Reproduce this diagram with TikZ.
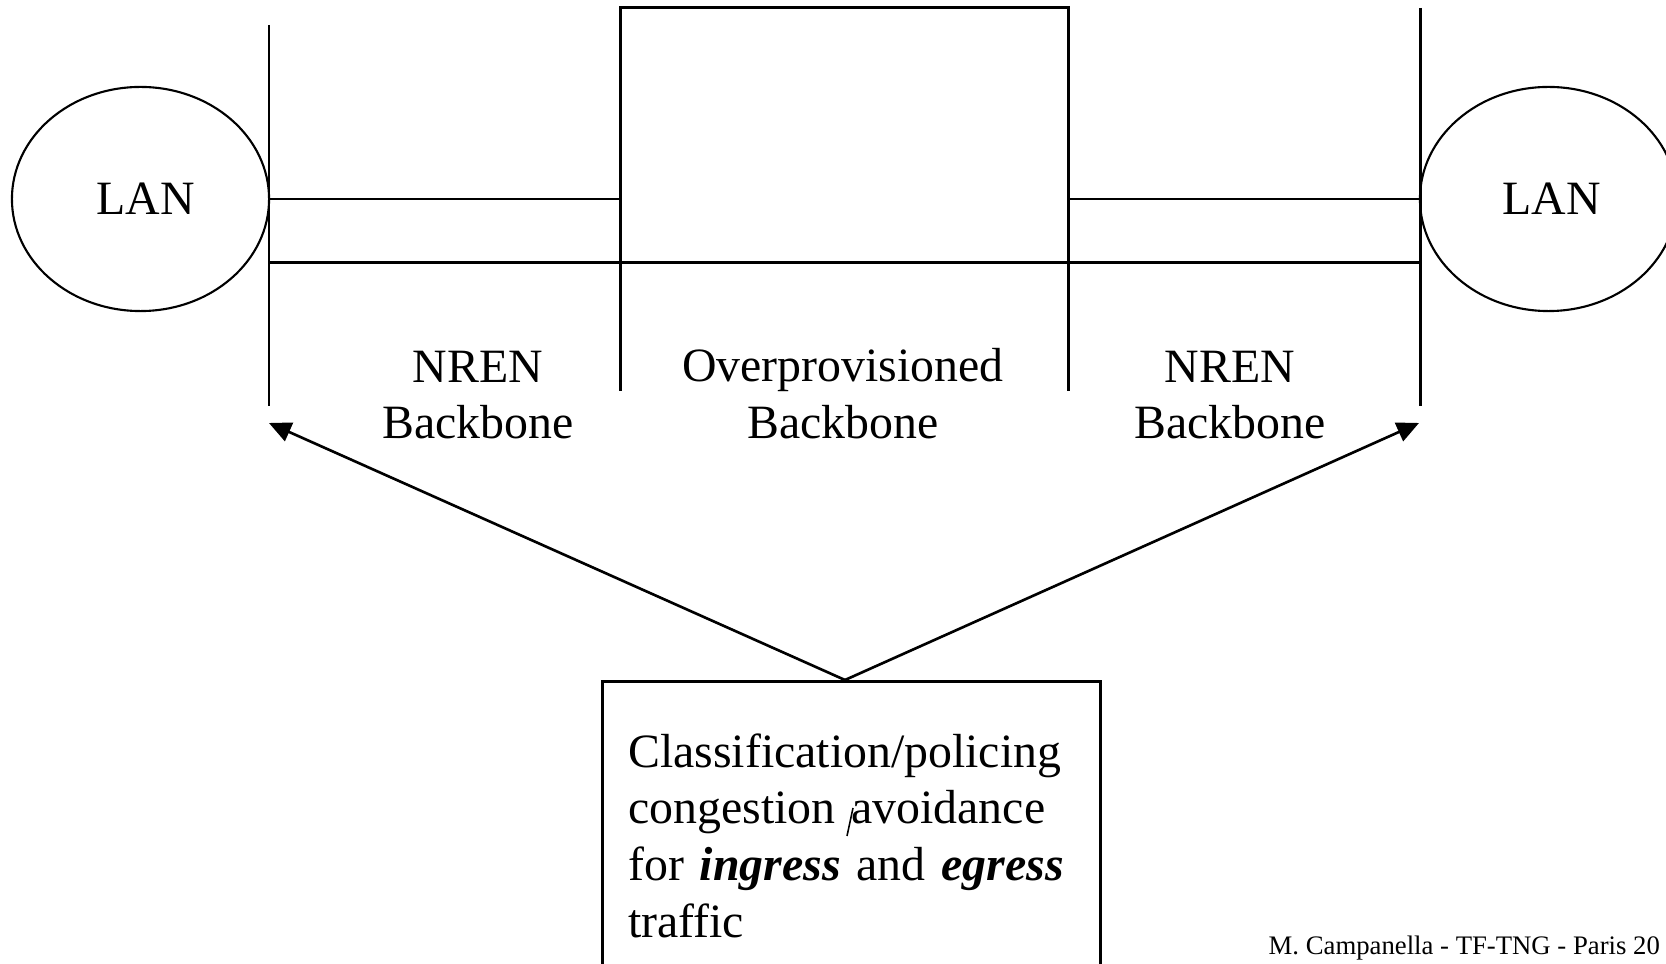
\documentclass[tikz,border=0pt]{standalone}
\usepackage{fontspec}
\setmainfont{Liberation Serif}
\usetikzlibrary{positioning, arrows.meta, shapes.geometric}
\definecolor{inkColor}{RGB}{0, 0, 0}
\tikzset{
    lan_cloud/.style={
        ellipse,
        draw=inkColor,
        line width=0.6pt,
        minimum width=2.57cm,
        minimum height=2.24cm,
        inner sep=0pt,
        font=\fontsize{13.6}{16.2}\selectfont
    },
    link_line/.style={
        draw=inkColor,
        line width=0.85pt
    },
    seg_label/.style={
        align=center,
        anchor=north,
        inner sep=0pt,
        font=\fontsize{13.6}{16.1}\selectfont
    },
    info_box/.style={
        draw=inkColor,
        line width=0.85pt,
        anchor=north west,
        align=left,
        text width=4.46cm,
        inner xsep=0.26cm,
        inner ysep=0.52cm,
        font=\fontsize{13.6}{16.1}\selectfont
    },
    policy_arrow/.style={
        -{Triangle[length=0.22cm, width=0.2cm]},
        draw=inkColor,
        line width=0.75pt
    }
}

\begin{document}
\begin{tikzpicture}[x=0.01cm, y=-0.01cm]
    \useasboundingbox (0,0) rectangle (1666,964);

    % campus networks
    \node[lan_cloud] (lanL) at (140.5,199) {\hspace*{0.1cm}LAN};
    \node[lan_cloud] (lanR) at (1548.5,199) {\hspace*{0.06cm}LAN};

    % edges of the domains
    \coordinate (edgeLtop) at (269,25);
    \coordinate (edgeLbot) at (269,406);
    \coordinate (edgeRtop) at (1420,8);
    \coordinate (edgeRbot) at (1420,406);
    \coordinate (coreNW) at (620,7.5);
    \coordinate (coreNE) at (1068,7.5);
    \coordinate (coreSW) at (620,391);
    \coordinate (coreSE) at (1068,391);
    \coordinate (busL) at (269,262.5);
    \coordinate (busR) at (1420,262.5);

    \draw[link_line] (edgeLtop) -- (edgeLbot);
    \draw[link_line] (edgeRtop) -- (edgeRbot);
    \draw[link_line] (coreSW) -- (coreNW) -- (coreNE) -- (coreSE);
    \draw[link_line] (edgeLtop |- lanL) -- (coreNW |- lanL);
    \draw[link_line] (coreNE |- lanR) -- (edgeRtop |- lanR);
    \draw[link_line] (busL) -- (busR);

    \node[seg_label] (nrenL) at (478,350) {NREN\\Backbone};
    \node[seg_label] (core) at (843,348) {Overprovisioned\\Backbone};
    \node[seg_label] (nrenR) at (1230,350) {NREN\\Backbone};

    % edge functions
    \node[info_box] (policy) at (600.7,680) {Classification/policing\\congestion avoidance\\for \textbf{\textit{ingress}} and \textbf{\textit{egress}}\\traffic};
    \coordinate (apex) at (845,680);
    \coordinate (tipL) at (269,423);
    \coordinate (tipR) at (1419,423);
    \draw[policy_arrow] (apex) -- (tipL);
    \draw[policy_arrow] (apex) -- (tipR);
    \draw[inkColor, line width=0.45pt] (853,808) -- (847,836);

    \node[anchor=base west, inner sep=0pt, font=\fontsize{7.6}{9}\selectfont] (footer) at (1268,954) {M. Campanella - TF-TNG - Paris 20};
\end{tikzpicture}
\end{document}
